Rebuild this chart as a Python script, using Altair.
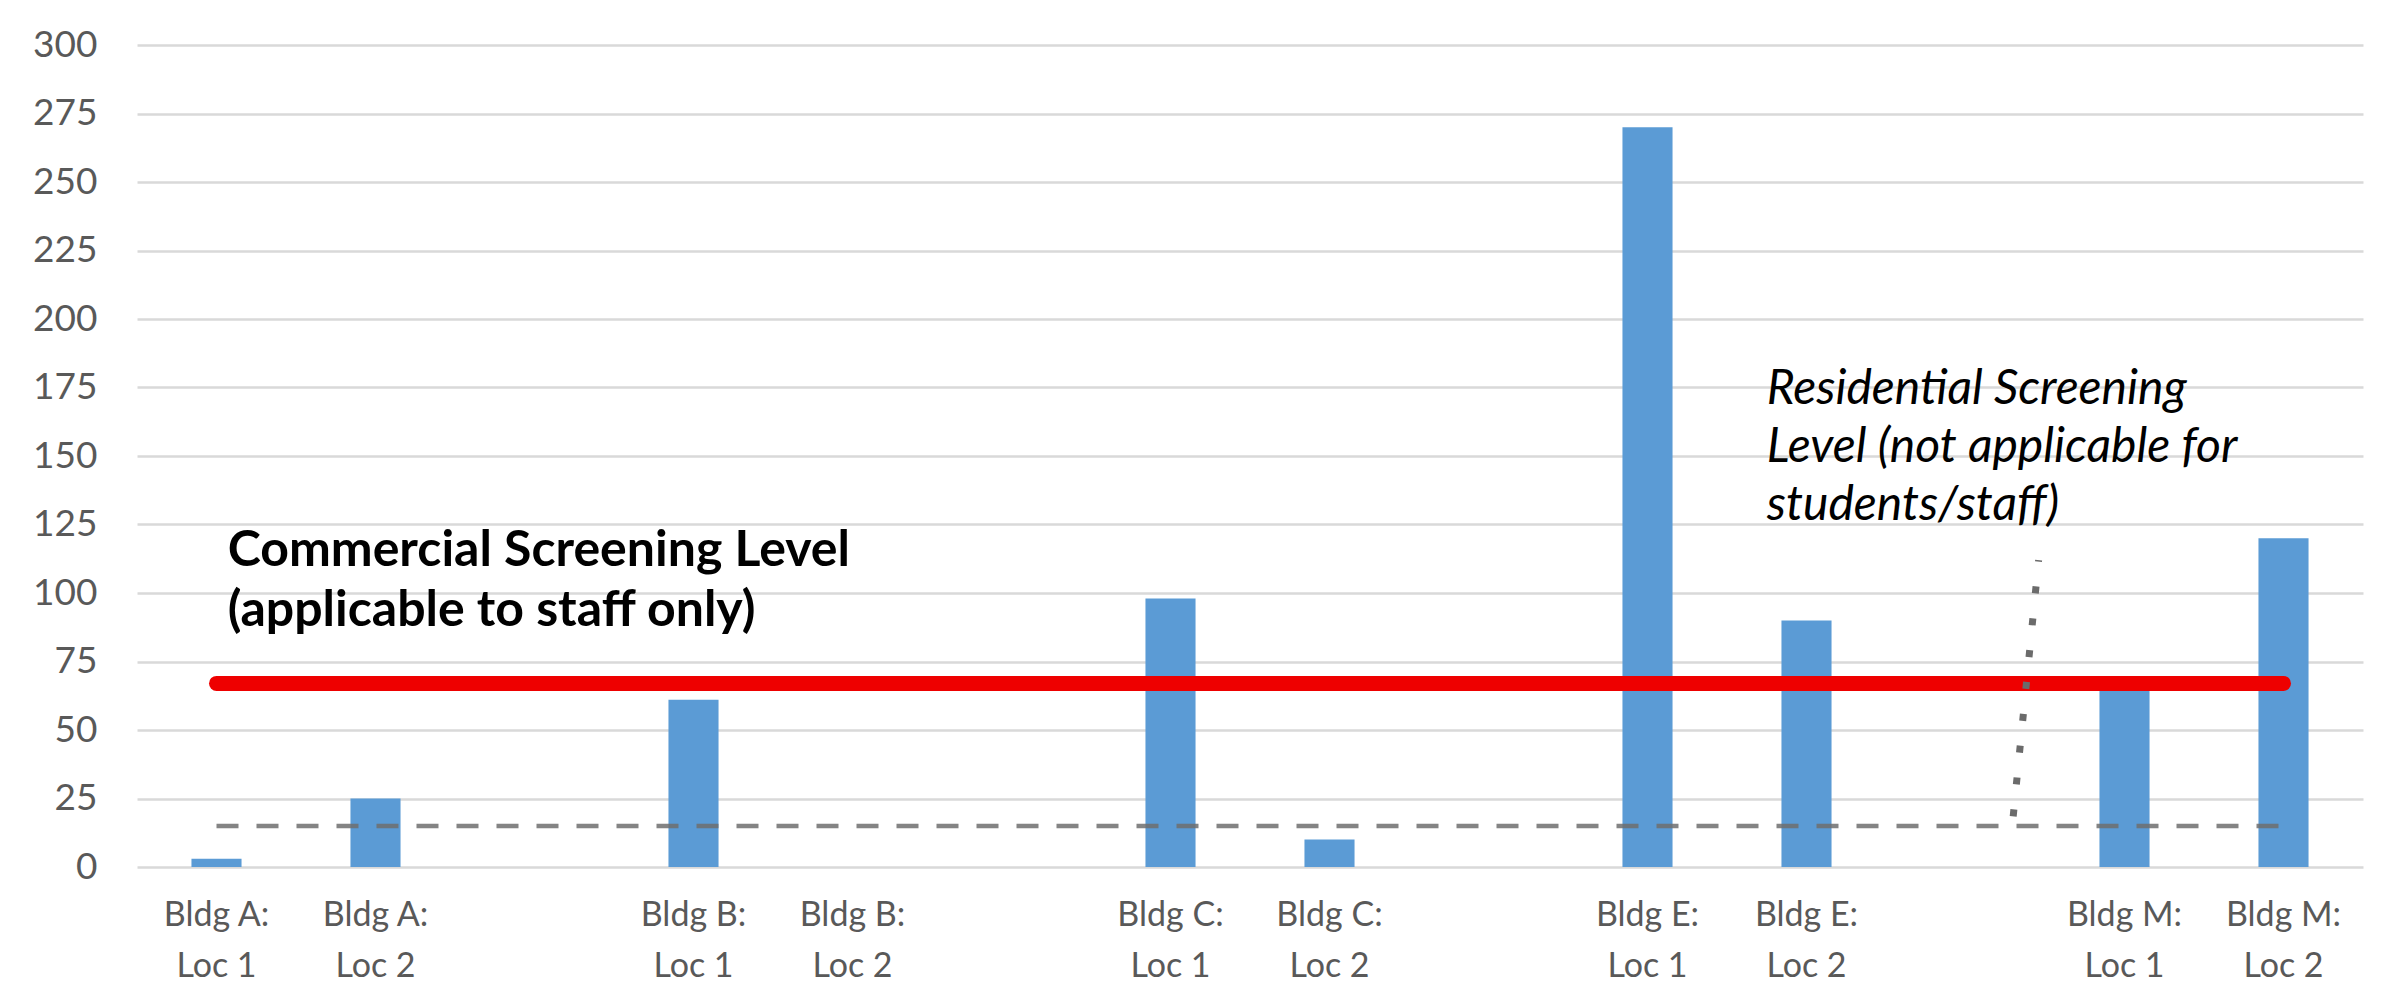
import altair as alt
import pandas as pd

# ---- data ----
categories = [
    "Bldg A:\nLoc 1", "Bldg A:\nLoc 2", " ",
    "Bldg B:\nLoc 1", "Bldg B:\nLoc 2", "  ",
    "Bldg C:\nLoc 1", "Bldg C:\nLoc 2", "   ",
    "Bldg E:\nLoc 1", "Bldg E:\nLoc 2", "    ",
    "Bldg M:\nLoc 1", "Bldg M:\nLoc 2",
]
bar_categories = [c for c in categories if c.strip()]
values = [3, 25, 61, 0, 98, 10, 270, 90, 65, 120]

commercial_level = 67
residential_level = 15
y_ticks = list(range(0, 301, 25))

# annotation anchors, in category-slot units (x) and data units (y)
dotted_x = [11.8, 11.96]
dotted_y = [18.5, 112]
label_texts = [
    "Commercial Screening Level\n(applicable to staff only)",
    "Residential Screening\nLevel (not applicable for\nstudents/staff)",
]
label_x = [0.57, 10.25]
label_y = [110, 169]

FONT = "Lato"
n_slots = len(categories)

bars_df = pd.DataFrame({"cat": bar_categories, "value": values})
levels_df = pd.DataFrame({
    "x": [0.5, 0.5],
    "x2": [n_slots - 0.5, n_slots - 0.5],
    "y": [commercial_level, residential_level],
    "kind": ["commercial", "residential"],
})
dotted_df = pd.DataFrame({"x": [dotted_x[0]], "x2": [dotted_x[1]],
                          "y": [dotted_y[0]], "y2": [dotted_y[1]]})
text_df = pd.DataFrame({"x": label_x, "y": label_y, "t": label_texts})

yscale = alt.Scale(domain=[0, 300])
xq = alt.Scale(domain=[0, n_slots], nice=False, zero=False)

bars = alt.Chart(bars_df).mark_bar(
    color="#5b9bd5", width=alt.RelativeBandSize(0.315)
).encode(
    x=alt.X("cat:N", sort=None,
            scale=alt.Scale(domain=categories, paddingInner=0, paddingOuter=0),
            axis=alt.Axis(title=None, labelAngle=0, domain=False, ticks=False,
                          grid=False, labelFont=FONT, labelFontSize=34,
                          labelColor="#595959", labelPadding=31,
                          labelLineHeight=51, labelBaseline="top",
                          labelExpr="split(datum.label, '\\n')")),
    y=alt.Y("value:Q", scale=yscale,
            axis=alt.Axis(title=None, values=y_ticks, grid=True,
                          gridColor="#d9d9d9", gridWidth=2.5, domain=False,
                          ticks=False, labelFont=FONT, labelFontSize=37,
                          labelColor="#595959", labelPadding=40)),
)

dashed = alt.Chart(levels_df).transform_filter(
    alt.datum.kind == "residential"
).mark_rule(color="#6e6e6e", strokeWidth=4.5, strokeDash=[22, 18], opacity=0.85).encode(
    x=alt.X("x:Q", scale=xq, axis=None), x2="x2:Q",
    y=alt.Y("y:Q", scale=yscale),
)

red = alt.Chart(levels_df).transform_filter(
    alt.datum.kind == "commercial"
).mark_rule(color="#ee0000", strokeWidth=15, strokeCap="round").encode(
    x=alt.X("x:Q", scale=xq, axis=None), x2="x2:Q",
    y=alt.Y("y:Q", scale=yscale),
)

dotted = alt.Chart(dotted_df).mark_rule(
    color="#6b6b6b", strokeWidth=7, strokeDash=[7, 25], strokeCap="butt"
).encode(
    x=alt.X("x:Q", scale=xq, axis=None), x2="x2:Q",
    y=alt.Y("y:Q", scale=yscale), y2="y2:Q",
)

text_comm = alt.Chart(text_df.iloc[[0]]).mark_text(
    font=FONT, fontSize=50, fontWeight="bold", color="#000000",
    align="left", baseline="alphabetic", lineBreak="\n", lineHeight=60,
).encode(
    x=alt.X("x:Q", scale=xq, axis=None),
    y=alt.Y("y:Q", scale=yscale),
    text="t:N",
)

text_res = alt.Chart(text_df.iloc[[1]]).mark_text(
    font=FONT, fontSize=48, fontStyle="italic", color="#000000",
    align="left", baseline="alphabetic", lineBreak="\n", lineHeight=58,
).encode(
    x=alt.X("x:Q", scale=xq, axis=None),
    y=alt.Y("y:Q", scale=yscale),
    text="t:N",
)

chart = alt.layer(bars, dashed, red, dotted, text_comm, text_res).resolve_scale(
    x="independent"
).properties(
    width=2226, height=822,
    autosize=alt.AutoSizeParams(type="none"),
    padding={"left": 129, "top": 37, "right": 36, "bottom": 120},
    background="#ffffff",
).configure_view(stroke="transparent")

chart.save("out.html", embed_options={"renderer": "svg", "actions": False})
